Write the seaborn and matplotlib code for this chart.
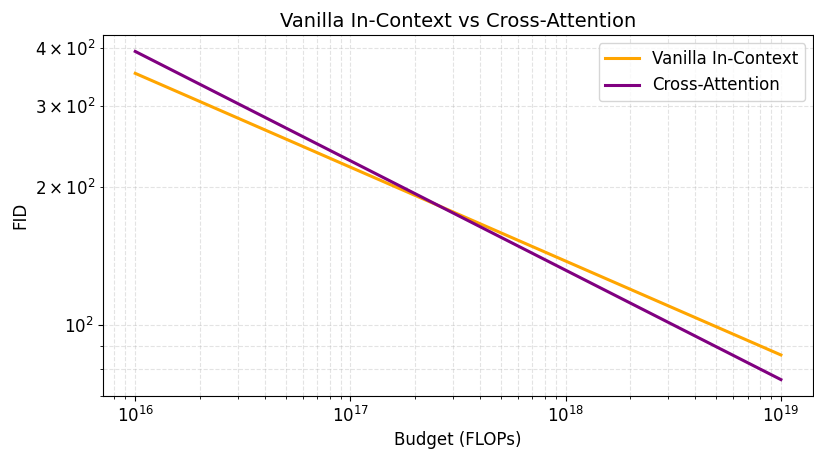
import matplotlib
matplotlib.use("Agg")
import matplotlib.pyplot as plt
import pandas as pd
import seaborn as sns

# keep matplotlib's plain look (black spines and text)
sns.reset_orig()
plt.rcParams['font.family'] = ['DejaVu Sans']

# Data (straight lines on log-log axes)
budget = [1e16, 1e19]
fid_vanilla = [353, 86]
fid_cross = [394, 76]
series_names = ['Vanilla In-Context', 'Cross-Attention']
colors = ['orange', 'purple']

df = pd.DataFrame({
    'Budget': budget * 2,
    'FID': fid_vanilla + fid_cross,
    'Model': [series_names[0]] * len(budget) + [series_names[1]] * len(budget),
})

fig, ax = plt.subplots(figsize=(8.14, 4.49), dpi=100)
sns.lineplot(data=df, x='Budget', y='FID', hue='Model', palette=colors,
             linewidth=2.2, ax=ax)
ax.set_xscale('log')
ax.set_yscale('log')
ax.grid(True, which='both', linestyle='--', alpha=0.35)

ax.set_title('Vanilla In-Context vs Cross-Attention', fontsize=14)
ax.set_xlabel('Budget (FLOPs)', fontsize=12)
ax.set_ylabel('FID', fontsize=12)
ax.tick_params(which='both', labelsize=12)
ax.legend(title=None, fontsize=12, loc='upper right')

fig.subplots_adjust(left=0.1265, right=0.999, top=0.922, bottom=0.118)
plt.savefig('out.png')
